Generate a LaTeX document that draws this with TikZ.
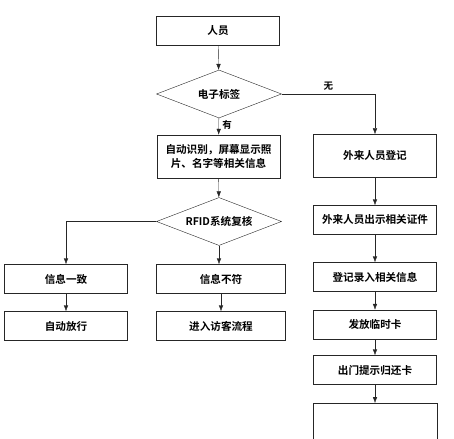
\documentclass[tikz,border=0pt]{standalone}
\usepackage{fontspec}
\newfontfamily\cjk{Noto Sans CJK SC}[BoldFont={* Bold}]
\usetikzlibrary{arrows.meta,shapes.geometric}

\begin{document}
\begin{tikzpicture}[x=1pt,y=-1pt,
  font=\cjk\bfseries\fontsize{10.6}{13.5}\selectfont,
  box/.style={draw=black!85,thin,minimum width=123pt,minimum height=29pt,inner sep=1pt,align=center},
  decision/.style={draw=black!85,thin,diamond,aspect=2.6,minimum width=125pt,minimum height=48pt,inner sep=0pt},
  arr/.style={draw=black!85,thin,-{Latex[length=6pt,width=4.5pt]}}]
\useasboundingbox (0,0) rectangle (454,438);
% main column
\node[box] (person) at (218,30.5) {人员};
\node[decision] (tag) at (219,94) {电子标签};
\node[box,minimum height=43pt] (auto) at (218.5,156.5) {自动识别，屏幕显示照\\片、名字等相关信息};
\node[decision] (rfid) at (219,221.5) {RFID系统复核};
% check result
\node[box] (match) at (66,279) {信息一致};
\node[box] (pass) at (66,326) {自动放行};
\node[box,minimum width=129pt] (nomatch) at (221,279) {信息不符};
\node[box,minimum width=129pt] (visit) at (221,326) {进入访客流程};
% visitors
\node[box,minimum height=43pt] (reg) at (375,156) {外来人员登记};
\node[box] (show) at (375,220) {外来人员出示相关证件};
\node[box] (input) at (375,277) {登记录入相关信息};
\node[box] (card) at (375,324.5) {发放临时卡};
\node[box] (exit) at (375,370) {出门提示归还卡};
\coordinate (last) at (375,403);
\draw[black!85,thin] (313,440) |- (437,403) -- (437,440);
% connectors
\draw[arr] (person) -- (tag);
\draw[arr] (tag) -- node[right,pos=0.4,font=\cjk\bfseries\fontsize{9.5}{11}\selectfont]{有} (auto);
\draw[arr] (tag.east) -| node[pos=0.25,above,font=\cjk\bfseries\fontsize{9.5}{11}\selectfont]{无} (reg);
\draw[arr] (auto) -- (rfid);
\draw[arr] (rfid.west) -| (match);
\draw[arr] (rfid.south) -- (rfid.south |- nomatch.north);
\draw[arr] (match) -- (pass);
\draw[arr] (nomatch) -- (visit);
\draw[arr] (reg) -- (show);
\draw[arr] (show) -- (input);
\draw[arr] (input) -- (card);
\draw[arr] (card) -- (exit);
\draw[arr] (exit) -- (last);
\end{tikzpicture}
\end{document}
